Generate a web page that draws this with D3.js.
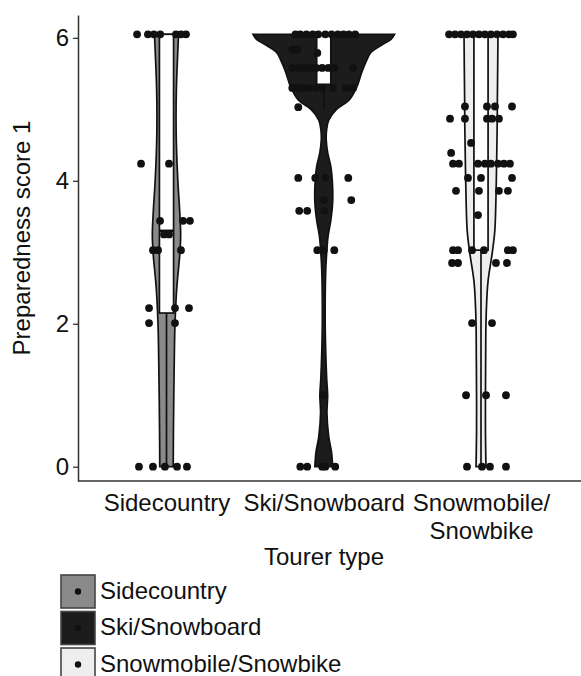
<!DOCTYPE html>
<html>
<head>
<meta charset="utf-8">
<script src="https://cdn.jsdelivr.net/npm/d3@7"></script>
<style>
body { margin: 0; background: #fff; }
text { font-family: "Liberation Sans", Arial, sans-serif; }
</style>
</head>
<body>
<div id="chart-area"></div>
<script>
var categories = ["Sidecountry", "Ski/Snowboard", "Snowmobile/Snowbike"];
var tickLabels = [["Sidecountry"], ["Ski/Snowboard"], ["Snowmobile/", "Snowbike"]];
var yTicks = [0, 2, 4, 6];
var fills = ["#8a8a8a", "#1c1c1c", "#eeeeee"];

// violin outline: [score, density scaled to the widest violin]
var sideDensity = [[0, 0.095], [0.5, 0.098], [1, 0.103], [1.5, 0.11], [2, 0.12], [2.5, 0.145], [3, 0.19],
	[3.25, 0.2], [3.6, 0.185], [4, 0.16], [4.5, 0.14], [4.85, 0.135], [5.3, 0.14], [5.7, 0.155], [6.05, 0.17]];
var skiDensity = [[0, 0.125], [0.2, 0.11], [0.42, 0.07], [0.75, 0.045], [1.0, 0.055], [1.22, 0.042], [1.6, 0.028],
	[2.05, 0.02], [2.75, 0.028], [3.0, 0.042], [3.22, 0.06], [3.45, 0.1], [3.69, 0.125], [3.92, 0.125], [4.2, 0.1],
	[4.39, 0.056], [4.57, 0.035], [4.71, 0.04], [4.85, 0.07], [5.0, 0.18], [5.13, 0.36], [5.32, 0.47], [5.5, 0.53],
	[5.65, 0.59], [5.8, 0.67], [5.9, 0.82], [5.98, 0.95], [6.05, 1.0]];
var snowDensity = [[0, 0.07], [0.5, 0.063], [1, 0.063], [1.5, 0.066], [2, 0.07], [2.3, 0.08], [2.6, 0.1], [3.0, 0.16],
	[3.3, 0.195], [3.7, 0.21], [4.2, 0.22], [4.7, 0.228], [5.2, 0.232], [5.6, 0.236], [6.05, 0.24]];

// box stats: [lower whisker, q1, median, q3, upper whisker]
var sideBox = [0, 2.15, 3.3, 6.05, 6.05];
var skiBox = [5.0, 5.35, 5.6, 6.05, 6.05];
var snowBox = [0, 3.03, 4.24, 6.05, 6.05];

// jittered points: [jitter (category units), score]
var sidePoints = [[-0.187, 6.05], [-0.118, 6.05], [-0.08, 6.05], [-0.04, 6.05], [0.06, 6.05], [0.092, 6.05], [0.124, 6.05],
	[-0.162, 4.24], [0.016, 4.24],
	[-0.041, 3.44], [0.105, 3.44], [0.149, 3.44],
	[-0.016, 3.25], [0.016, 3.25],
	[-0.086, 3.03], [-0.054, 3.03], [0.092, 3.03],
	[-0.111, 2.22], [0.054, 2.22], [0.143, 2.22],
	[-0.111, 2.01], [0.054, 2.01],
	[-0.175, 0], [-0.086, 0], [-0.01, 0], [0.067, 0], [0.13, 0]];
var skiPoints = [[-0.18, 6.05], [-0.15, 6.05], [-0.11, 6.05], [-0.07, 6.05], [-0.035, 6.05], [0.01, 6.05],
	[0.05, 6.05], [0.09, 6.05], [0.125, 6.05], [0.16, 6.05], [0.2, 6.05],
	[-0.2, 5.84], [-0.168, 5.84], [-0.041, 5.79],
	[-0.2, 5.58], [-0.162, 5.58], [-0.124, 5.58], [-0.086, 5.58], [-0.048, 5.58], [-0.01, 5.58],
	[0.029, 5.58], [0.067, 5.58], [0.187, 5.58],
	[-0.2, 5.3], [-0.168, 5.3], [-0.137, 5.3], [-0.098, 5.3], [-0.048, 5.3], [-0.01, 5.3],
	[0.06, 5.3], [0.14, 5.3], [0.187, 5.3],
	[-0.162, 5.03],
	[-0.162, 4.04], [-0.054, 4.04], [0.01, 4.04], [0.156, 4.04],
	[0, 3.73], [0.175, 3.73],
	[-0.156, 3.58], [-0.105, 3.58], [0.003, 3.58],
	[-0.041, 3.03], [0, 3.03], [0.067, 3.03],
	[0, 1.0],
	[-0.149, 0], [-0.105, 0], [-0.01, 0], [0.01, 0], [0.073, 0]];
var snowPoints = [[-0.203, 6.05], [-0.165, 6.05], [-0.127, 6.05], [-0.089, 6.05], [-0.051, 6.05], [-0.013, 6.05],
	[0.025, 6.05], [0.063, 6.05], [0.102, 6.05], [0.14, 6.05], [0.178, 6.05], [0.203, 6.05],
	[-0.102, 5.04], [0.038, 5.04], [0.089, 5.04], [0.197, 5.04],
	[-0.197, 4.87], [-0.102, 4.87], [0.038, 4.87], [0.07, 4.87], [0.114, 4.87],
	[-0.063, 4.53], [-0.19, 4.39],
	[-0.178, 4.24], [-0.14, 4.24], [-0.019, 4.24], [0.025, 4.24], [0.063, 4.24], [0.108, 4.24], [0.146, 4.24], [0.184, 4.24],
	[-0.083, 4.04], [0, 4.04], [0.197, 4.04],
	[-0.159, 3.86], [-0.013, 3.86], [0.114, 3.86], [0.171, 3.86],
	[-0.019, 3.52],
	[-0.178, 3.03], [-0.146, 3.03], [-0.057, 3.03], [0.019, 3.03], [0.171, 3.03], [0.203, 3.03],
	[-0.184, 2.85], [-0.146, 2.85], [0.095, 2.85], [0.165, 2.85],
	[-0.057, 2.01], [0.07, 2.01],
	[-0.095, 1.0], [0.032, 1.0], [0.159, 1.0],
	[-0.089, 0], [0.006, 0], [0.057, 0], [0.159, 0]];

var densities = [sideDensity, skiDensity, snowDensity];
var boxes = [sideBox, skiBox, snowBox];
var points = [sidePoints, skiPoints, snowPoints];

var width = 581;
var height = 676;
var fontSize = 24;
var ink = "#111";
var lineW = 1.7;

var svg = d3.select("#chart-area")
	.append("svg")
	.attr("width", width)
	.attr("height", height);

var x = d3.scalePoint()
	.domain(categories)
	.range([166.5, 481]);

var y = d3.scaleLinear()
	.domain([-0.2, 6.32])
	.range([481, 15]);

var halfWidth = d3.scaleLinear()
	.domain([0, 1])
	.range([0, 0.45 * x.step()]);

var boxHalf = 0.045 * x.step();

categories.forEach(function (cat, i) {
	var cx = x(cat);
	var g = svg.append("g").attr("class", "group");

	var area = d3.area()
		.curve(d3.curveCatmullRom)
		.y(d => y(d[0]))
		.x0(d => cx - halfWidth(d[1]))
		.x1(d => cx + halfWidth(d[1]));

	g.append("path")
		.datum(densities[i])
		.attr("d", area)
		.attr("fill", fills[i])
		.attr("stroke", ink)
		.attr("stroke-width", lineW);

	var b = boxes[i];
	g.append("line")
		.attr("x1", cx).attr("x2", cx)
		.attr("y1", y(b[0])).attr("y2", y(b[1]))
		.attr("stroke", ink)
		.attr("stroke-width", lineW);
	g.append("line")
		.attr("x1", cx).attr("x2", cx)
		.attr("y1", y(b[3])).attr("y2", y(b[4]))
		.attr("stroke", ink)
		.attr("stroke-width", lineW);
	g.append("rect")
		.attr("x", cx - boxHalf)
		.attr("y", y(b[3]))
		.attr("width", boxHalf * 2)
		.attr("height", y(b[1]) - y(b[3]))
		.attr("fill", "#fff")
		.attr("stroke", ink)
		.attr("stroke-width", lineW);
	g.append("line")
		.attr("x1", cx - boxHalf).attr("x2", cx + boxHalf)
		.attr("y1", y(b[2])).attr("y2", y(b[2]))
		.attr("stroke", ink)
		.attr("stroke-width", 2.6);

	g.selectAll("circle")
		.data(points[i])
		.enter().append("circle")
		.attr("cx", d => cx + d[0] * x.step())
		.attr("cy", d => y(d[1]))
		.attr("r", 3.9)
		.attr("fill", ink);
});

// axes
var yAxisG = svg.append("g")
	.attr("transform", "translate(78,0)")
	.call(d3.axisLeft(y).tickValues(yTicks).tickSize(5).tickSizeOuter(0).tickPadding(4).tickFormat(d3.format("d")));
yAxisG.selectAll("text").attr("font-size", fontSize).attr("fill", ink).style("font-family", "Liberation Sans, Arial, sans-serif");
yAxisG.selectAll("line").attr("stroke", "#333").attr("stroke-width", 1.3);
yAxisG.select(".domain").attr("stroke", "#333").attr("stroke-width", 1.5);

var xAxisG = svg.append("g")
	.attr("transform", "translate(0,481)")
	.call(d3.axisBottom(x).tickSize(0).tickPadding(13));
xAxisG.select(".domain").remove();
xAxisG.selectAll("text")
	.attr("font-size", fontSize)
	.attr("fill", ink)
	.attr("dy", null)
	.style("font-family", "Liberation Sans, Arial, sans-serif")
	.text("")
	.each(function (d, i) {
		var t = d3.select(this);
		tickLabels[i].forEach(function (line, j) {
			t.append("tspan")
				.attr("x", 0)
				.attr("dy", j === 0 ? "0.71em" : "1.17em")
				.text(line);
		});
	});

svg.append("line")
	.attr("x1", 78).attr("x2", width)
	.attr("y1", 481).attr("y2", 481)
	.attr("stroke", "#333")
	.attr("stroke-width", 1.5);

svg.append("text")
	.attr("x", 324)
	.attr("y", 565)
	.attr("text-anchor", "middle")
	.attr("font-size", fontSize)
	.attr("fill", ink)
	.text("Tourer type");

svg.append("text")
	.attr("transform", "translate(30,238) rotate(-90)")
	.attr("text-anchor", "middle")
	.attr("font-size", fontSize)
	.attr("fill", ink)
	.text("Preparedness score 1");

// legend
var legend = svg.append("g").attr("class", "legend");
categories.forEach(function (cat, i) {
	var ky = 575 + i * 36.5;
	legend.append("rect")
		.attr("x", 61)
		.attr("y", ky)
		.attr("width", 34)
		.attr("height", 33)
		.attr("fill", fills[i])
		.attr("stroke", "#444")
		.attr("stroke-width", 1.6);
	legend.append("circle")
		.attr("cx", 78)
		.attr("cy", ky + 16.5)
		.attr("r", 3.2)
		.attr("fill", ink);
	legend.append("text")
		.attr("x", 100)
		.attr("y", ky + 23.5)
		.attr("font-size", fontSize)
		.attr("fill", ink)
		.text(cat);
});
</script>
</body>
</html>
